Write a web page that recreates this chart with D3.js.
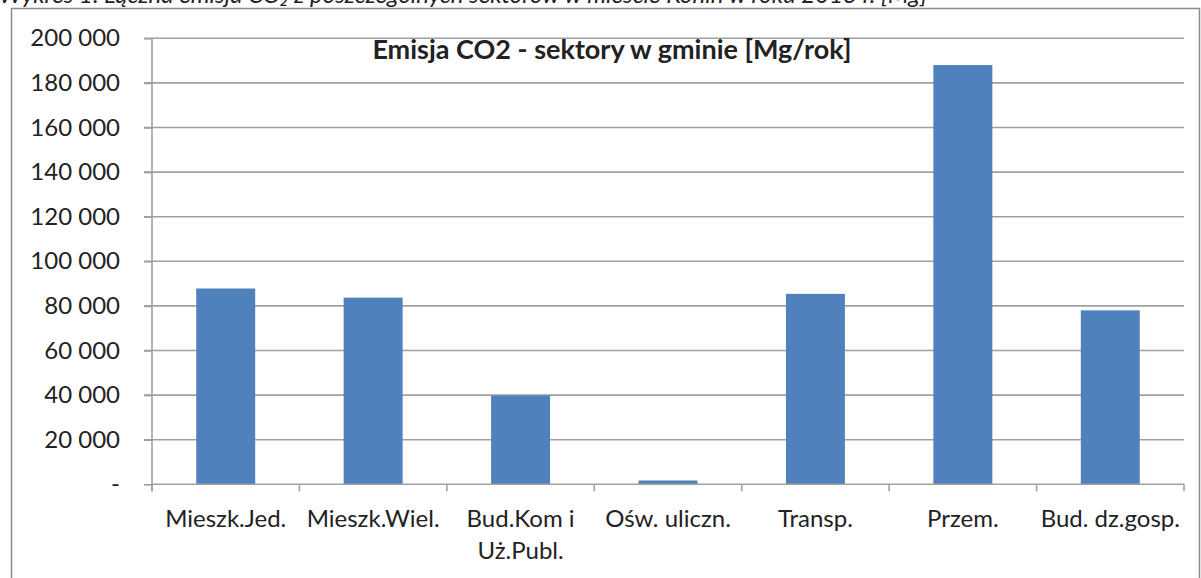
<!DOCTYPE html>
<meta charset="utf-8">
<style>
  body { margin: 0; background: #fff; }
  text { font-family: Lato, "Open Sans", sans-serif; fill: #222; }
  .axis .domain { stroke: #a0a0a0; stroke-width: 1.6; }
  .axis line { stroke: #a0a0a0; stroke-width: 1.6; }
</style>
<svg width="1201" height="578"></svg>
<script src="https://d3js.org/d3.v7.min.js"></script>
<script>
  // categories and values (Mg/rok)
  var categories = ["Mieszk.Jed.", "Mieszk.Wiel.", "Bud.Kom i\nUż.Publ.", "Ośw. uliczn.", "Transp.", "Przem.", "Bud. dz.gosp."];
  var emisja = [87800, 83700, 39800, 1700, 85400, 188000, 78000];
  var yTicks = [0, 20000, 40000, 60000, 80000, 100000, 120000, 140000, 160000, 180000, 200000];

  var title = "Emisja CO2 - sektory w gminie [Mg/rok]";
  var caption = "Wykres 1. Łączna emisja CO\u2082 z poszczególnych sektorów w mieście Konin w roku 2013 r. [Mg]";

  var svg = d3.select("svg");

  // cropped caption above the frame
  svg.append("text")
    .attr("x", -1)
    .attr("y", 3)
    .attr("font-style", "italic")
    .attr("font-size", 24)
    .text(caption);

  // outer chart frame
  svg.append("rect")
    .attr("x", 11.5).attr("y", 8.5)
    .attr("width", 1188).attr("height", 600)
    .attr("fill", "none")
    .attr("stroke", "#8c8c8c")
    .attr("stroke-width", 1.5);

  var plotL = 152, plotR = 1184, plotT = 38.3, plotB = 484.3;

  var x = d3.scaleBand().domain(categories).range([plotL, plotR]).padding(0);
  var y = d3.scaleLinear().domain([0, 200000]).range([plotB, plotT]);

  var fmt = d3.formatLocale({ decimal: ",", thousands: " ", grouping: [3], currency: ["", ""] }).format(",");

  // gridlines
  svg.append("g")
    .selectAll("line")
    .data(yTicks.slice(1))
    .join("line")
    .attr("x1", plotL - 8).attr("x2", plotR)
    .attr("y1", function(d) { return y(d); })
    .attr("y2", function(d) { return y(d); })
    .attr("stroke", "#a0a0a0")
    .attr("stroke-width", 1.6);

  // y axis
  var yAxis = svg.append("g")
    .attr("class", "axis")
    .attr("transform", "translate(" + plotL + ",0)")
    .call(d3.axisLeft(y).tickValues(yTicks).tickSizeOuter(0).tickSize(8).tickPadding(24)
      .tickFormat(function(d) { return d === 0 ? "-" : fmt(d); }));
  yAxis.selectAll("text")
    .attr("font-size", 24)
    .attr("font-family", "Lato, sans-serif")
    .attr("fill", "#222");
  yAxis.select(".domain").attr("d", "M0," + plotT + "V" + (plotB + 7));

  // bars
  var barW = x.bandwidth() * 0.4;
  svg.append("g")
    .selectAll("rect")
    .data(emisja)
    .join("rect")
    .attr("x", function(d, i) { return x(categories[i]) + (x.bandwidth() - barW) / 2; })
    .attr("y", function(d) { return y(d); })
    .attr("width", barW)
    .attr("height", function(d) { return y(0) - y(d); })
    .attr("fill", "#4f81bd");

  // x axis: ticks on band boundaries
  var xg = svg.append("g").attr("class", "axis");
  xg.append("line")
    .attr("x1", plotL).attr("x2", plotR)
    .attr("y1", plotB).attr("y2", plotB);
  xg.selectAll(".tk")
    .data(d3.range(categories.length + 1))
    .join("line")
    .attr("class", "tk")
    .attr("x1", function(i) { return plotL + i * x.step(); })
    .attr("x2", function(i) { return plotL + i * x.step(); })
    .attr("y1", plotB).attr("y2", plotB + 7);

  var lbl = xg.selectAll(".lbl")
    .data(categories)
    .join("text")
    .attr("class", "lbl")
    .attr("text-anchor", "middle")
    .attr("font-size", 24)
    .attr("x", function(d) { return x(d) + x.bandwidth() / 2; })
    .attr("y", 527);
  lbl.selectAll("tspan")
    .data(function(d) { return d.split("\n"); })
    .join("tspan")
    .attr("x", function() { return this.parentNode.getAttribute("x"); })
    .attr("dy", function(d, i) { return i ? 32 : 0; })
    .text(function(d) { return d; });

  // chart title
  svg.append("text")
    .attr("x", 612)
    .attr("y", 59)
    .attr("text-anchor", "middle")
    .attr("font-weight", "bold")
    .attr("font-size", 27)
    .text(title);
</script>
